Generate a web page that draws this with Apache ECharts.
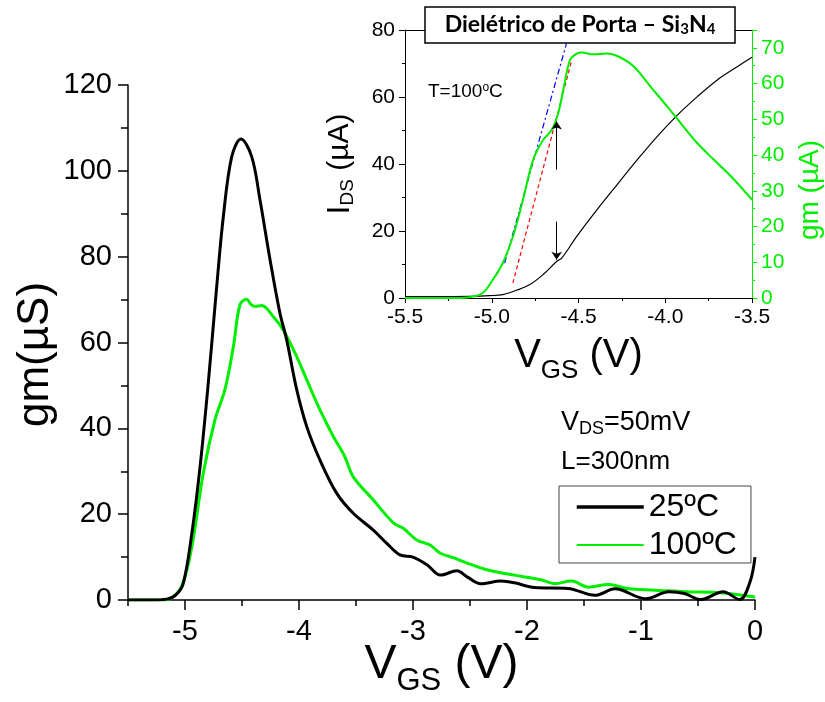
<!DOCTYPE html>
<html>
<head>
<meta charset="utf-8">
<script src="https://cdn.jsdelivr.net/npm/echarts@6/dist/echarts.min.js"></script>
<style>html,body{margin:0;padding:0;background:#fff}#c{width:825px;height:702px}</style>
</head>
<body>
<div id="c"></div>
<script>
// ---- Main chart data: gm (µS) vs VGS (V) ----
const gm25C = [[-5.5,0],[-5.3,0],[-5.16,0.2],[-5.08,1.2],[-5.015,3.9],[-4.94,15.5],[-4.868,31],[-4.796,50.5],[-4.722,73],[-4.664,89.3],[-4.59,103.3],[-4.509,107.4],[-4.415,103.3],[-4.342,93.2],[-4.254,79.3],[-4.167,66.8],[-4.108,60.6],[-4.02,49],[-3.932,40.4],[-3.816,32.6],[-3.67,24.9],[-3.524,20.2],[-3.348,16.3],[-3.23,13.2],[-3.114,10.5],[-3.0,10.0],[-2.877,8.2],[-2.76,5.8],[-2.614,6.8],[-2.526,5.4],[-2.406,3.8],[-2.228,4.4],[-2.11,4.0],[-1.934,2.9],[-1.64,2.7],[-1.403,1.1],[-1.228,2.6],[-0.96,0.3],[-0.754,1.9],[-0.62,1.5],[-0.474,0.1],[-0.28,1.9],[-0.134,0.1],[-0.044,4.2],[0,10]];
const gm100C = [[-5.5,0],[-5.2,0],[-5.13,0.3],[-5.03,3.1],[-4.94,12.4],[-4.84,29.5],[-4.737,42],[-4.65,49],[-4.576,59],[-4.518,68.8],[-4.459,70.1],[-4.42,68.8],[-4.386,68.4],[-4.327,68.6],[-4.225,66],[-4.138,62.9],[-4.02,56.7],[-3.932,51.3],[-3.816,44.3],[-3.699,38.1],[-3.6,33.5],[-3.524,28.7],[-3.348,23.3],[-3.17,17.9],[-3.085,16.7],[-2.967,14],[-2.85,12.8],[-2.76,10.9],[-2.64,9.8],[-2.526,8.6],[-2.346,7.0],[-2.11,5.8],[-1.877,4.7],[-1.757,3.8],[-1.61,4.4],[-1.46,3.0],[-1.285,3.6],[-1.108,2.6],[-0.872,2.3],[-0.605,1.9],[-0.31,1.7],[0,0.7]];
const legendNames = ['25ºC', '100ºC'];
const mainXLabels = [-5, -4, -3, -2, -1, 0];
const mainXMinor = [-5.5, -4.5, -3.5, -2.5, -1.5, -0.5];

// ---- Inset data (T = 100 ºC) ----
const insetIds = [[-5.5,0.4],[-5.3,0.4],[-5.129,0.5],[-5.013,0.7],[-4.936,1.0],[-4.858,2.3],[-4.78,4],[-4.704,7],[-4.626,10.9],[-4.597,11.9],[-4.51,18.4],[-4.394,26.3],[-4.278,33.8],[-4.162,41.2],[-4.047,48.2],[-3.93,54.6],[-3.815,60.1],[-3.7,65.1],[-3.583,69.1],[-3.5,71.9]];
const insetGm = [[-5.5,0],[-5.2,0],[-5.13,0.2],[-5.052,1.4],[-4.994,5.1],[-4.936,9.8],[-4.878,17.2],[-4.82,27.5],[-4.762,38.6],[-4.704,44.2],[-4.655,47],[-4.617,51.7],[-4.588,58.2],[-4.549,66.6],[-4.51,68.4],[-4.481,68.7],[-4.414,68.2],[-4.336,68.4],[-4.258,67.3],[-4.18,64.7],[-4.084,59.1],[-3.987,53.5],[-3.91,48.9],[-3.815,43.3],[-3.718,38.6],[-3.62,34],[-3.5,27.5]];
const tangentBlue = [[-4.926,10.4],[-4.569,76]];
const tangentRed = [[-4.878,4.5],[-4.539,71]];
const arrowUp = [[-4.626,38.3],[-4.626,52.7]];
const arrowDown = [[-4.626,22.8],[-4.626,11.4]];

const FONT = 'Liberation Sans';
const GREEN = '#00ee00';

const chart = echarts.init(document.getElementById('c'), null, {renderer: 'canvas'});

const option = {
  backgroundColor: '#fff',
  animation: false,
  textStyle: {fontFamily: FONT},
  grid: [
    {left: 128, top: 85, width: 627, height: 515, outerBoundsMode: 'none', containLabel: false},
    {left: 405, top: 30, width: 347, height: 268, outerBoundsMode: 'none', containLabel: false}
  ],
  legend: {
    orient: 'vertical', left: 559, top: 486,
    padding: [5, 14, 2, 16],
    itemWidth: 67, itemHeight: 14, itemGap: 6,
    borderColor: '#444', borderWidth: 1, backgroundColor: '#fff',
    textStyle: {fontSize: 32, fontFamily: FONT, color: '#000', lineHeight: 32},
    data: [
      {name: legendNames[0], lineStyle: {width: 3.5}, itemStyle: {opacity: 0, color: 'rgba(0,0,0,0)', borderWidth: 0}},
      {name: legendNames[1], lineStyle: {width: 2}, itemStyle: {opacity: 0, color: 'rgba(0,0,0,0)', borderWidth: 0}}
    ]
  },
  xAxis: [
    {
      gridIndex: 0, type: 'value', min: -5.5, max: 0, position: 'bottom',
      name: 'V{sub|GS} (V)', nameLocation: 'middle', nameGap: 33, nameMoveOverlap: false,
      nameTextStyle: {fontSize: 48, color: '#000', fontFamily: FONT, lineHeight: 64,
        rich: {sub: {fontSize: 31, verticalAlign: 'bottom', lineHeight: 10, fontFamily: FONT, color: '#000'}}},
      axisLine: {onZero: false, lineStyle: {color: '#000', width: 1.5}},
      axisTick: {length: 10, lineStyle: {color: '#000', width: 1.5}, customValues: mainXLabels},
      axisLabel: {fontSize: 29, color: '#000', margin: 17, customValues: mainXLabels, formatter: v => String(v)},
      splitLine: {show: false}
    },
    {
      gridIndex: 0, type: 'value', min: -5.5, max: 0, position: 'bottom',
      axisLine: {show: false, onZero: false},
      axisTick: {length: 6, lineStyle: {color: '#000', width: 1.5}, customValues: mainXMinor},
      axisLabel: {show: false},
      splitLine: {show: false}
    },
    {
      gridIndex: 1, type: 'value', min: -5.5, max: -3.5, interval: 0.5, position: 'bottom',
      name: 'V{sub|GS} (V)', nameLocation: 'middle', nameGap: 30, nameMoveOverlap: false,
      nameTextStyle: {fontSize: 40, color: '#000', fontFamily: FONT, lineHeight: 56,
        rich: {sub: {fontSize: 26, verticalAlign: 'bottom', lineHeight: 8, fontFamily: FONT, color: '#000'}}},
      axisLine: {onZero: false, lineStyle: {color: '#000', width: 1}},
      axisTick: {length: 5, lineStyle: {color: '#000', width: 1}},
      minorTick: {show: true, splitNumber: 2, length: 3, lineStyle: {color: '#000', width: 1}},
      axisLabel: {fontSize: 21, color: '#000', margin: 9, formatter: v => v.toFixed(1)},
      splitLine: {show: false}, minorSplitLine: {show: false}
    },
    {
      gridIndex: 1, type: 'value', min: -5.5, max: -3.5, interval: 0.5, position: 'top',
      axisLine: {onZero: false, lineStyle: {color: '#000', width: 1}},
      axisTick: {show: false}, axisLabel: {show: false}, splitLine: {show: false}
    }
  ],
  yAxis: [
    {
      gridIndex: 0, type: 'value', min: 0, max: 120, interval: 20, position: 'left',
      name: 'gm(µS)', nameLocation: 'middle', nameGap: 70, nameMoveOverlap: false,
      nameTextStyle: {fontSize: 44, color: '#000', fontFamily: FONT, padding: [0, 24, 0, 0]},
      axisLine: {show: true, onZero: false, lineStyle: {color: '#000', width: 1.5}},
      axisTick: {show: true, length: 10, lineStyle: {color: '#000', width: 1.5}},
      minorTick: {show: true, splitNumber: 2, length: 7, lineStyle: {color: '#000', width: 1.5}},
      axisLabel: {fontSize: 29, color: '#000', margin: 16},
      splitLine: {show: false}, minorSplitLine: {show: false}
    },
    {
      gridIndex: 1, type: 'value', min: 0, max: 80, interval: 20, position: 'left',
      name: '{I|I}{sub|DS} (µA)', nameLocation: 'middle', nameGap: 48, nameMoveOverlap: false,
      nameTextStyle: {fontSize: 30, color: '#000', fontFamily: FONT, lineHeight: 34,
        rich: {I: {fontSize: 32, fontFamily: FONT, color: '#000', lineHeight: 34},
               sub: {fontSize: 19, verticalAlign: 'bottom', lineHeight: 12, fontFamily: FONT, color: '#000'}}},
      axisLine: {show: true, onZero: false, lineStyle: {color: '#000', width: 1}},
      axisTick: {show: true, length: 6, lineStyle: {color: '#000', width: 1}},
      minorTick: {show: true, splitNumber: 2, length: 3, lineStyle: {color: '#000', width: 1}},
      axisLabel: {fontSize: 21, color: '#000', margin: 10},
      splitLine: {show: false}, minorSplitLine: {show: false}
    },
    {
      gridIndex: 1, type: 'value', min: 0, max: 75, interval: 10, position: 'right',
      name: 'gm (µA)', nameLocation: 'middle', nameGap: 44, nameMoveOverlap: false,
      nameTextStyle: {fontSize: 28, color: GREEN, fontFamily: FONT, padding: [0, 52, 0, 0]},
      axisLine: {show: true, onZero: false, lineStyle: {color: GREEN, width: 1}},
      axisTick: {show: true, length: 5, lineStyle: {color: GREEN, width: 1}},
      minorTick: {show: true, splitNumber: 2, length: 3, lineStyle: {color: GREEN, width: 1}},
      axisLabel: {fontSize: 21, color: GREEN, margin: 9, showMaxLabel: false},
      splitLine: {show: false}, minorSplitLine: {show: false}
    }
  ],
  series: [
    {name: legendNames[0], type: 'line', xAxisIndex: 0, yAxisIndex: 0, data: gm25C, smooth: 0.35,
      symbol: 'none', lineStyle: {color: '#000', width: 3}, itemStyle: {color: '#000'}, z: 3},
    {name: legendNames[1], type: 'line', xAxisIndex: 0, yAxisIndex: 0, data: gm100C, smooth: 0.35,
      symbol: 'none', lineStyle: {color: GREEN, width: 3}, itemStyle: {color: GREEN}, z: 2},
    {name: 'IDS inset', type: 'line', xAxisIndex: 2, yAxisIndex: 1, data: insetIds, smooth: 0.35,
      symbol: 'none', lineStyle: {color: '#000', width: 1.2}, itemStyle: {color: '#000'}, z: 3,
      markLine: {silent: true, symbol: ['none', 'arrow'], symbolSize: 8,
        lineStyle: {color: '#000', width: 1, type: 'solid'}, label: {show: false},
        data: [[{coord: arrowUp[0]}, {coord: arrowUp[1]}], [{coord: arrowDown[0]}, {coord: arrowDown[1]}]]}},
    {name: 'gm inset', type: 'line', xAxisIndex: 2, yAxisIndex: 2, data: insetGm, smooth: 0.35,
      symbol: 'none', lineStyle: {color: GREEN, width: 2}, itemStyle: {color: GREEN}, z: 4},
    {name: 'tangent blue', type: 'line', xAxisIndex: 2, yAxisIndex: 1, data: tangentBlue,
      symbol: 'none', lineStyle: {color: '#0000ff', width: 1.2, type: [6, 3, 2, 3]}, z: 2},
    {name: 'tangent red', type: 'line', xAxisIndex: 2, yAxisIndex: 1, data: tangentRed,
      symbol: 'none', lineStyle: {color: '#ff0000', width: 1.2, type: [4, 3]}, z: 2}
  ],
  graphic: [
    {type: 'rect', shape: {x: 425, y: 7, width: 310, height: 36}, style: {fill: '#fff', stroke: '#000', lineWidth: 1.5}, z: 100},
    {type: 'text', x: 580, y: 25, z: 101, style: {
      text: 'Dielétrico de Porta – Si{sub|3}N{sub|4}', align: 'center', verticalAlign: 'middle',
      font: 'bold 23px Lato', fill: '#000',
      rich: {sub: {font: 'bold 15px Lato', verticalAlign: 'bottom', lineHeight: 10, fill: '#000'}}}},
    {type: 'text', x: 428, y: 82, z: 50, style: {
      text: 'T=100{sup|o}C', font: '19px "Liberation Sans"', fill: '#000', verticalAlign: 'top', lineHeight: 20,
      rich: {sup: {font: '12px "Liberation Sans"', verticalAlign: 'top', lineHeight: 12, fill: '#000'}}}},
    {type: 'text', x: 561, y: 408, z: 50, style: {
      text: 'V{sub|DS}=50mV', font: '27px "Liberation Sans"', fill: '#000', verticalAlign: 'top', lineHeight: 30,
      rich: {sub: {font: '18px "Liberation Sans"', verticalAlign: 'bottom', lineHeight: 10, fill: '#000'}}}},
    {type: 'text', x: 561, y: 449, z: 50, style: {
      text: 'L=300nm', font: '26px "Liberation Sans"', fill: '#000', verticalAlign: 'top'}}
  ]
};
chart.setOption(option);
</script>
</body>
</html>
